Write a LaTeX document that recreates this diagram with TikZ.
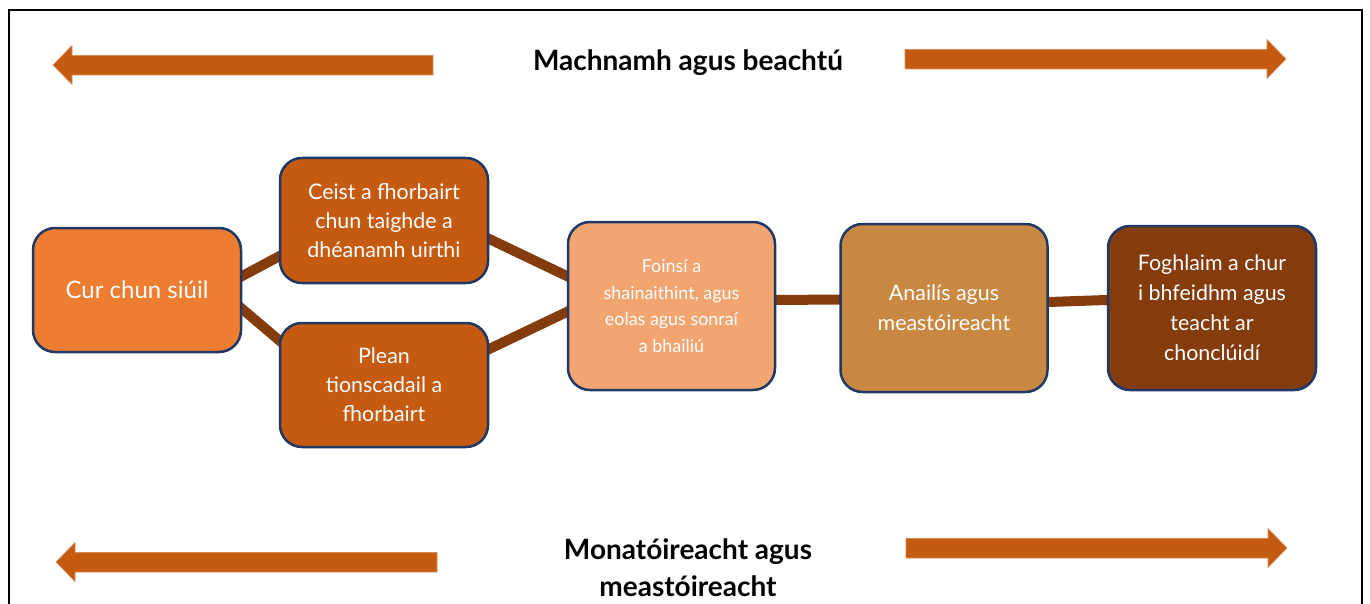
\documentclass[tikz,border=0pt]{standalone}
\usepackage{fontspec}
\setmainfont{Lato}
\usetikzlibrary{calc,backgrounds}
\definecolor{arrowc}{HTML}{C55A11}
\definecolor{boxA}{HTML}{ED7D31}
\definecolor{boxB}{HTML}{C55A11}
\definecolor{boxD}{HTML}{F2A571}
\definecolor{boxE}{HTML}{C98841}
\definecolor{boxF}{HTML}{843C0C}
\definecolor{linkc}{HTML}{843C0C}
\definecolor{navy}{HTML}{1F3864}
\tikzset{
  stepbox/.style={draw=navy, line width=2.5pt, rounded corners=22pt, align=center,
    text=white, inner sep=4pt},
  link/.style={draw=linkc, line width=10pt, shorten <=-10pt, shorten >=-10pt},
  bigarrow/.style={fill=arrowc, draw=arrowc!70!white, line width=0.6pt},
  title/.style={font=\bfseries\fontsize{28}{37}\selectfont, align=center},
}
\begin{document}
\begin{tikzpicture}[x=1pt,y=-1pt]
\useasboundingbox (0,0) rectangle (1370,604);
% frame
\draw[line width=2.5pt] (9,610) -- (9,10) -- (1362,10) -- (1362,610);
% big arrows
\path[bigarrow] (53,65) -- (72,45.5) -- (72,55.5) -- (433,55.5) -- (433,75) -- (72,75) -- (72,84.5) -- cycle;
\path[bigarrow] (1286,59) -- (1267,39.5) -- (1267,49.5) -- (905,49.5) -- (905,69) -- (1267,69) -- (1267,78.5) -- cycle;
\path[bigarrow] (56,562) -- (75,542.5) -- (75,552.5) -- (437,552.5) -- (437,572) -- (75,572) -- (75,581.5) -- cycle;
\path[bigarrow] (1287,548) -- (1268,528.5) -- (1268,538.5) -- (906,538.5) -- (906,558) -- (1268,558) -- (1268,567.5) -- cycle;
% titles
\node[title] (t1) at (688,63) {Machnamh agus beachtú};
\node[title] (t2) at (688,568) {Monatóireacht agus\\meastóireacht};
% boxes
\node[stepbox, fill=boxA, minimum width=208pt, minimum height=124pt, font=\fontsize{24}{29}\selectfont] (A) at (137,290) {Cur chun siúil};
\node[stepbox, fill=boxB, minimum width=208pt, minimum height=125pt, font=\fontsize{21.4}{29}\selectfont] (B) at (384,220.5) {Ceist a fhorbairt\\chun taighde a\\dhéanamh uirthi};
\node[stepbox, fill=boxB, minimum width=208pt, minimum height=124pt, font=\fontsize{21.4}{29}\selectfont] (C) at (384,385) {Plean\\tionscadail a\\fhorbairt};
\node[stepbox, fill=boxD, minimum width=207pt, minimum height=168pt, font=\fontsize{17.9}{26.7}\selectfont] (D) at (671.5,306) {Foinsí a\\shainaithint, agus\\eolas agus sonraí\\a bhailiú};
\node[stepbox, fill=boxE, minimum width=207pt, minimum height=168pt, font=\fontsize{21.4}{30}\selectfont] (E) at (944,308) {Anailís agus\\meastóireacht};
\node[stepbox, fill=boxF, minimum width=208pt, minimum height=164pt, font=\fontsize{21.4}{30}\selectfont] (F) at (1212,308) {Foghlaim a chur\\i bhfeidhm agus\\teacht ar\\chonclúidí};
% connectors
\begin{scope}[on background layer]
\draw[link] ($(A.east)+(0,-14)$) -- ($(B.west)+(0,36)$);
\draw[link] ($(A.east)+(0,19)$) -- ($(C.west)+(0,-45)$);
\draw[link] ($(B.east)+(0,18.5)$) -- ($(D.west)+(0,-30)$);
\draw[link] ($(C.east)+(0,-36)$) -- ($(D.west)+(0,6)$);
\draw[link] ($(D.east)+(0,-6)$) -- ($(E.west)+(0,-8.5)$);
\draw[link] ($(E.east)+(0,-6)$) -- ($(F.west)+(0,-8)$);
\end{scope}
\end{tikzpicture}
\end{document}
